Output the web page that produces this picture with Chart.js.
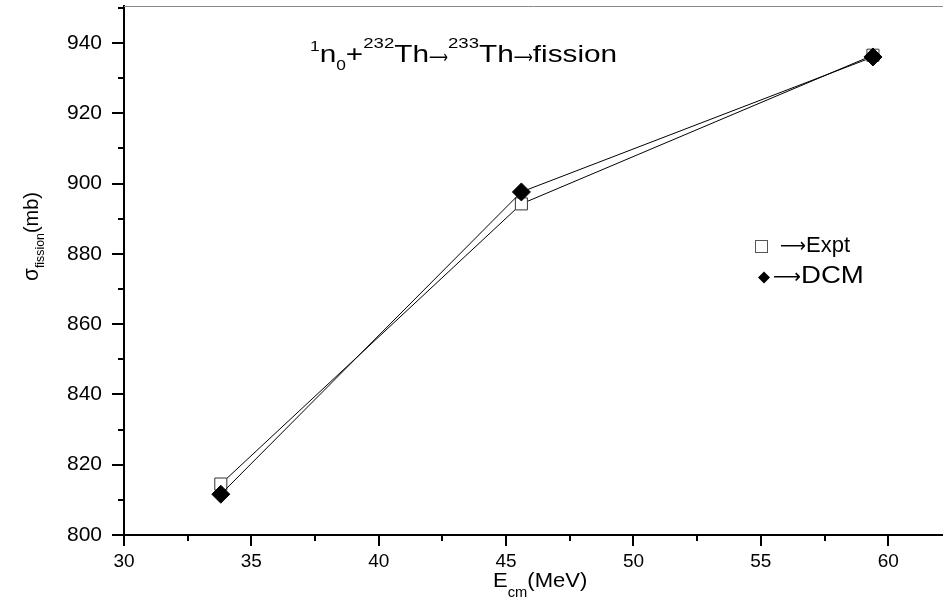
<!DOCTYPE html>
<html>
<head>
<meta charset="utf-8">
<script src="https://cdn.jsdelivr.net/npm/chart.js@4.4.1/dist/chart.umd.min.js"></script>
<style>
  html, body { margin: 0; padding: 0; background: #fff; }
  #wrap { width: 943px; height: 602px; }
</style>
</head>
<body>
<div id="wrap"><canvas id="fissionChart"></canvas></div>
<script>
// values
var energies = [33.8, 45.6, 59.4];
var exptValues = [814.5, 894.2, 936.5];
var dcmValues = [811.6, 897.6, 936.0];
var xTicks = [30, 35, 40, 45, 50, 55, 60];
var yTicks = [800, 820, 840, 860, 880, 900, 920, 940];

var FONT = '"Liberation Sans", Arial, sans-serif';
var ARROW_FONT = '"DejaVu Sans", sans-serif';

function toPoints(xs, ys) {
  return xs.map(function (x, i) { return { x: x, y: ys[i] }; });
}

// text made of pieces: [text, size, dy, targetWidth, family]
function drawRich(ctx, x, y, parts, sx) {
  ctx.save();
  ctx.translate(x, y);
  ctx.scale(sx || 1, 1);
  ctx.fillStyle = '#000';
  ctx.textBaseline = 'alphabetic';
  var cx = 0;
  parts.forEach(function (p) {
    ctx.font = p[1] + 'px ' + (p[4] || FONT);
    var w = ctx.measureText(p[0]).width;
    var k = p[3] ? p[3] / (sx || 1) / w : 1;
    ctx.save();
    ctx.translate(cx, p[2] || 0);
    ctx.scale(k, 1);
    ctx.fillText(p[0], 0, 0);
    ctx.restore();
    cx += w * k;
  });
  ctx.restore();
}

var extras = {
  id: 'extras',
  afterDraw: function (chart) {
    var ctx = chart.ctx;
    var area = chart.chartArea;
    var xs = chart.scales.x, ys = chart.scales.y;

    ctx.save();
    // thin grey top frame
    ctx.strokeStyle = '#8a8a8a';
    ctx.lineWidth = 1;
    ctx.beginPath();
    ctx.moveTo(area.left, area.top + 0.5);
    ctx.lineTo(area.right, area.top + 0.5);
    ctx.stroke();

    // outward ticks, major + minor
    ctx.strokeStyle = '#000';
    ctx.lineWidth = 2;
    ctx.beginPath();
    xTicks.forEach(function (v) {
      var px = Math.round(xs.getPixelForValue(v));
      ctx.moveTo(px, area.bottom); ctx.lineTo(px, area.bottom + 11);
      var mid = xs.getPixelForValue(v + (xTicks[1] - xTicks[0]) / 2);
      if (mid < area.right) {
        mid = Math.round(mid);
        ctx.moveTo(mid, area.bottom); ctx.lineTo(mid, area.bottom + 6);
      }
    });
    yTicks.forEach(function (v) {
      var py = Math.round(ys.getPixelForValue(v));
      ctx.moveTo(area.left, py); ctx.lineTo(area.left - 12, py);
      var mid = ys.getPixelForValue(v + (yTicks[1] - yTicks[0]) / 2);
      if (mid > area.top) {
        mid = Math.round(mid);
        ctx.moveTo(area.left, mid); ctx.lineTo(area.left - 6, mid);
      }
    });
    ctx.stroke();
    ctx.restore();

    // reaction label
    drawRich(ctx, 310, 62, [
      ['1', 14, -11], ['n', 24], ['0', 14, 8], ['+', 24],
      ['232', 15, -14], ['Th', 24], ['\u27f6', 18, 1, 19, ARROW_FONT],
      ['233', 15, -14], ['Th', 24], ['\u27f6', 18, 1, 19, ARROW_FONT],
      ['fission', 24]
    ], 1.24);

    // axis titles
    ctx.save();
    ctx.translate(38, 281);
    ctx.rotate(-Math.PI / 2);
    drawRich(ctx, 0, 0, [
      ['\u03c3', 22], ['fission', 13, 6], ['(mb)', 21]
    ], 0.95);
    ctx.restore();

    drawRich(ctx, 493, 587, [
      ['E', 21], ['cm', 14, 10], ['(MeV)', 21]
    ], 1.05);

    // legend
    ctx.save();
    ctx.strokeStyle = '#555';
    ctx.lineWidth = 1;
    ctx.fillStyle = '#fff';
    ctx.fillRect(755.5, 240.5, 12, 12);
    ctx.strokeRect(755.5, 240.5, 12, 12);
    ctx.fillStyle = '#000';
    ctx.beginPath();
    ctx.moveTo(758, 277.5); ctx.lineTo(764, 271.5); ctx.lineTo(770, 277.5); ctx.lineTo(764, 283.5);
    ctx.closePath();
    ctx.fill();
    ctx.restore();
    drawRich(ctx, 780, 252, [['\u27f6', 20, 0, 26, ARROW_FONT], ['Expt', 22]], 1.0);
    drawRich(ctx, 773, 283, [['\u27f6', 20, 0, 28, ARROW_FONT], ['DCM', 24]], 1.15);
  }
};

function noPadding(scale) {
  scale.paddingTop = 0;
  scale.paddingBottom = 0;
  scale.paddingLeft = 0;
  scale.paddingRight = 0;
}

var ctx = document.getElementById('fissionChart').getContext('2d');
var fissionChart = new Chart(ctx, {
  type: 'scatter',
  data: {
    datasets: [
      {
        label: 'Expt',
        data: toPoints(energies, exptValues),
        showLine: true,
        borderColor: '#000',
        borderWidth: 1,
        pointStyle: 'rect',
        pointRadius: 8.5,
        pointHoverRadius: 8.5,
        pointBackgroundColor: '#fff',
        pointBorderColor: '#333',
        pointBorderWidth: 1,
        order: 2
      },
      {
        label: 'DCM',
        data: toPoints(energies, dcmValues),
        showLine: true,
        borderColor: '#000',
        borderWidth: 1,
        pointStyle: 'rectRot',
        pointRadius: 9,
        pointHoverRadius: 9,
        pointBackgroundColor: '#000',
        pointBorderColor: '#000',
        pointBorderWidth: 1,
        order: 1
      }
    ]
  },
  options: {
    responsive: true,
    maintainAspectRatio: false,
    animation: false,
    layout: { autoPadding: false, padding: { top: 6, left: 0, right: 0, bottom: 0 } },
    plugins: {
      legend: { display: false },
      tooltip: { enabled: false },
      title: { display: false }
    },
    scales: {
      x: {
        type: 'linear',
        min: 30,
        max: 62.15,
        grid: { display: false },
        border: { display: true, color: '#000', width: 2 },
        afterBuildTicks: function (scale) {
          scale.ticks = xTicks.map(function (v) { return { value: v }; });
        },
        afterFit: function (scale) { scale.height = 67; noPadding(scale); },
        ticks: {
          color: '#000',
          padding: 7,
          maxRotation: 0,
          font: { family: FONT, size: 19 }
        }
      },
      y: {
        type: 'linear',
        min: 800,
        max: 950.5,
        grid: { display: false },
        border: { display: true, color: '#000', width: 2 },
        afterBuildTicks: function (scale) {
          scale.ticks = yTicks.map(function (v) { return { value: v }; });
        },
        afterFit: function (scale) { scale.width = 124; noPadding(scale); },
        ticks: {
          color: '#000',
          padding: 14,
          font: { family: FONT, size: 21 }
        }
      }
    }
  },
  plugins: [extras]
});
</script>
</body>
</html>
